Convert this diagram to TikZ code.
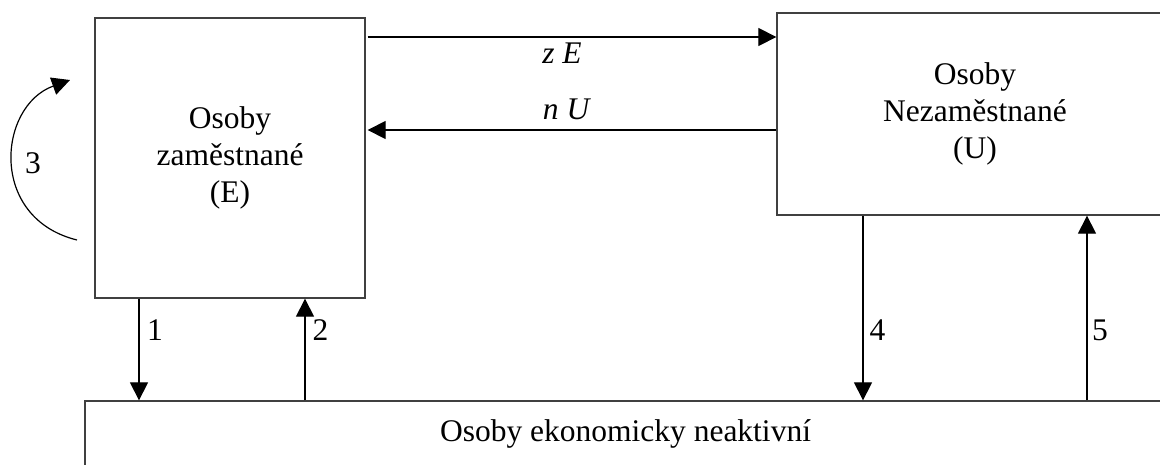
\documentclass[tikz,border=0pt]{standalone}
\usepackage{fontspec}
\setmainfont{Liberation Serif}
\usetikzlibrary{arrows.meta}
\tikzset{
  box/.style={draw=black!75, line width=1.3pt, inner sep=0pt, align=center,
    font=\fontsize{31.5}{37}\selectfont},
  arr/.style={line width=1.2pt, -{Triangle[length=18pt,width=18pt]}},
  lbl/.style={inner sep=0pt, anchor=base, font=\fontsize{31.5}{37}\selectfont},
}
\begin{document}
\begin{tikzpicture}[x=1pt,y=-1pt]
\useasboundingbox (0,0) rectangle (1160,464);
\clip (0,0) rectangle (1160,464);
\node[box, minimum width=270pt, minimum height=280pt] (E) at (230,158) {Osoby\\zaměstnané\\(E)};
\node[box, minimum width=396pt, minimum height=202pt] (U) at (975,114) {Osoby\\Nezaměstnané\\(U)};
\node[box, minimum width=1081pt, minimum height=65pt] (N) at (625.5,433.5) {Osoby ekonomicky neaktivní};
% horizontal flows
\draw[arr] ([xshift=2pt]E.east |- 0,37) -- (U.west |- 0,37);
\draw[arr] (U.west |- 0,130) -- ([xshift=2pt]E.east |- 0,130);
\node[lbl] (lzE) at (562,63) {\textit{z E}};
\node[lbl] (lnU) at (567,119) {\textit{n U}};
% vertical flows
\draw[arr] (E.south -| 139,0) -- (N.north -| 139,0);
\draw[arr] (N.north -| 305,0) -- (E.south -| 305,0);
\draw[arr] (U.south -| 863,0) -- (N.north -| 863,0);
\draw[arr] (N.north -| 1087,0) -- (U.south -| 1087,0);
\node[lbl] (l1) at (155,340) {1};
\node[lbl] (l2) at (320.5,340) {2};
\node[lbl] (l4) at (877.5,340) {4};
\node[lbl] (l5) at (1100,340) {5};
% self loop
\coordinate (c3s) at (77,240);
\coordinate (c3e) at (70,80);
\draw[arr] (c3s) .. controls (-12,218) and (-2,106) .. (c3e);
\node[lbl] (l3) at (33,173) {3};
\end{tikzpicture}
\end{document}
